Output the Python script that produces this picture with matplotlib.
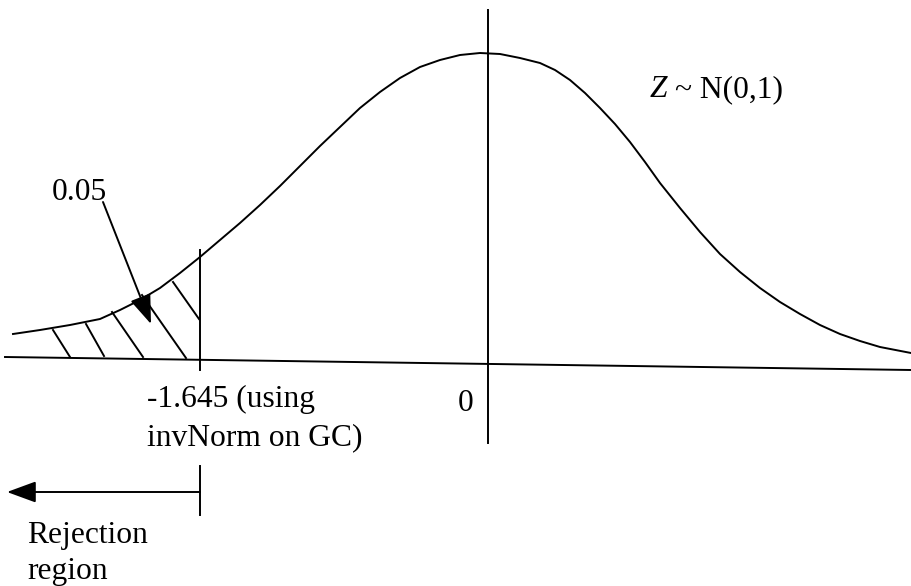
import numpy as np
import matplotlib
matplotlib.use("Agg")
import matplotlib.pyplot as plt

# hand drawn bell curve (pixel coordinates)
curve_x = [13, 40, 70, 100, 120, 140, 160, 180, 200, 220, 240, 260, 280, 300,
           320, 340, 360, 380, 400, 420, 440, 460, 480, 500, 520, 540, 555,
           570, 585, 600, 615, 630, 645, 660, 680, 700, 720, 740, 760, 780,
           800, 820, 840, 860, 880, 911]
curve_y = [334, 330, 325, 319, 310, 300, 288, 273, 257, 240, 223, 205, 186, 166,
           146, 127, 108, 92, 78, 67, 60, 55, 53, 54, 58, 63, 70,
           80, 93, 108, 124, 142, 162, 183, 208, 232, 254, 272, 288, 302,
           314, 325, 334, 341, 347, 353]

# horizontal axis line
base_x = [5, 911]
base_y = [357, 370]

# hatching strokes in the tail
hatch_x0 = [53, 86, 112, 142, 173]
hatch_y0 = [330, 324, 312, 295, 282]
hatch_x1 = [70, 104, 143, 186, 199]
hatch_y1 = [357, 356, 357, 358, 319]

plt.rcParams['font.family'] = ['Liberation Serif', 'DejaVu Serif']

fig = plt.figure(figsize=(9.11, 5.86), dpi=100)
ax = fig.add_axes([0, 0, 1, 1])
ax.set_xlim(0, 911)
ax.set_ylim(586, 0)
ax.axis('off')

lw = 1.4
ax.plot(curve_x, curve_y, color='black', lw=lw, solid_joinstyle='round')
ax.plot(base_x, base_y, color='black', lw=lw)

# vertical lines at 0 and -1.645
ax.plot([488, 488], [10, 443], color='black', lw=lw)
ax.plot([200, 200], [250, 370], color='black', lw=lw)

for a, b, c, d in zip(hatch_x0, hatch_y0, hatch_x1, hatch_y1):
    ax.plot([a, c], [b, d], color='black', lw=lw)

head = '-|>,head_length=0.6,head_width=0.22'

# arrow from the 0.05 label into the shaded tail
ax.annotate('', xy=(151, 324), xytext=(103, 202),
            arrowprops=dict(arrowstyle=head, color='black', lw=lw,
                            mutation_scale=30, shrinkA=0, shrinkB=0))

# rejection region arrow
ax.annotate('', xy=(7, 492), xytext=(200, 492),
            arrowprops=dict(arrowstyle=head, color='black', lw=lw,
                            mutation_scale=30, shrinkA=0, shrinkB=0))
ax.plot([200, 200], [466, 515], color='black', lw=lw)

fs = 22.7
ax.text(52, 200, '0.05', fontsize=fs, va='baseline')
ax.text(147, 407, '-1.645 (using', fontsize=fs, va='baseline')
ax.text(147, 445, 'invNorm on GC)', fontsize=fs, va='baseline')
ax.text(458, 411, '0', fontsize=fs, va='baseline')
ax.text(650, 97, 'Z', fontsize=fs, va='baseline', style='italic')
ax.text(675, 97, '~ N(0,1)', fontsize=fs, va='baseline')
ax.text(27, 543, 'Rejection', fontsize=fs, va='baseline')
ax.text(27, 579, 'region', fontsize=fs, va='baseline')

fig.savefig('out.png', dpi=100)
